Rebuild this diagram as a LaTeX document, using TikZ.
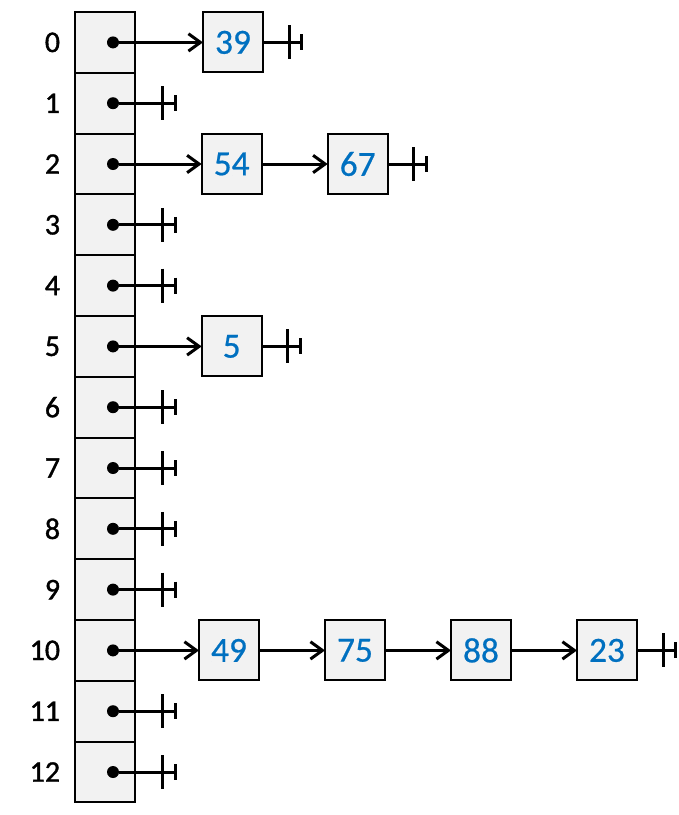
\documentclass[tikz,border=0pt]{standalone}
\usepackage{fontspec}
\setmainfont{Carlito}
\newfontfamily\labelfont[FakeBold=1.2]{Carlito}
\newfontfamily\valuefont[FakeBold=0.6]{Carlito}
\usepackage{tikz}
\usetikzlibrary{arrows.meta,positioning}
\definecolor{valueblue}{RGB}{0,112,192}
\definecolor{cellgrey}{RGB}{242,242,242}
\tikzset{
  bucket/.style={draw=black,line width=1.5pt,fill=cellgrey,
    minimum width=45pt,minimum height=45.6pt,inner sep=0pt,outer sep=0pt},
  entry/.style={draw=black,line width=1.6pt,fill=cellgrey,
    minimum size=45pt,inner sep=0pt,outer sep=0pt,
    font=\valuefont\fontsize{26.5}{26.5}\selectfont,text=valueblue},
  index/.style={font=\labelfont\fontsize{22.5}{22.5}\selectfont,inner sep=0pt},
  ptr/.style={circle,fill=black,minimum size=9pt,inner sep=0pt},
  link/.style={line width=2.25pt,draw=black},
  flow/.style={link,-{Straight Barb[length=9pt,width=13pt]}},
  nilmark/.pic={
    \draw[link] (-9.5pt,12.75pt) -- (-9.5pt,-12.75pt);
    \draw[link] (0pt,6pt) -- (0pt,-6pt);}
}

\begin{document}
\begin{tikzpicture}[node distance=49.5pt]
  \useasboundingbox (0,0) rectangle (509.25pt,-611.25pt);
  % table of buckets
  \foreach \i in {0,...,12}{
    \node[bucket] (c\i) at (78.75pt,{-31.8pt-\i*45.6pt}) {};
    \node[index,left=11pt of c\i] (k\i) {\i};
    \node[ptr] (d\i) at ([xshift=6pt]c\i.center) {};
  }
  % empty buckets
  \foreach \i in {1,3,4,6,7,8,9,11,12}{
    \coordinate (e\i) at ([xshift=46.5pt]d\i.center);
    \draw[link] (d\i) -- (e\i);
    \pic at (e\i) {nilmark};
  }
  % chains
  \node[entry,right=51pt of c0] (v39) {39};
  \node[entry,right=50pt of c2] (v54) {54};
  \node[entry,right=of v54] (v67) {67};
  \node[entry,right=50pt of c5] (v5) {5};
  \node[entry,right=48pt of c10] (v49) {49};
  \node[entry,right=of v49] (v75) {75};
  \node[entry,right=of v75] (v88) {88};
  \node[entry,right=of v88] (v23) {23};
  \draw[flow] (d0) -- (v39);
  \draw[flow] (d2) -- (v54);
  \draw[flow] (v54) -- (v67);
  \draw[flow] (d5) -- (v5);
  \draw[flow] (d10) -- (v49);
  \draw[flow] (v49) -- (v75);
  \draw[flow] (v75) -- (v88);
  \draw[flow] (v88) -- (v23);
  % list ends
  \foreach \v in {39,67,5,23}{
    \coordinate[right=29pt of v\v] (t\v);
    \draw[link] (v\v) -- (t\v);
    \pic at (t\v) {nilmark};
  }
\end{tikzpicture}
\end{document}
